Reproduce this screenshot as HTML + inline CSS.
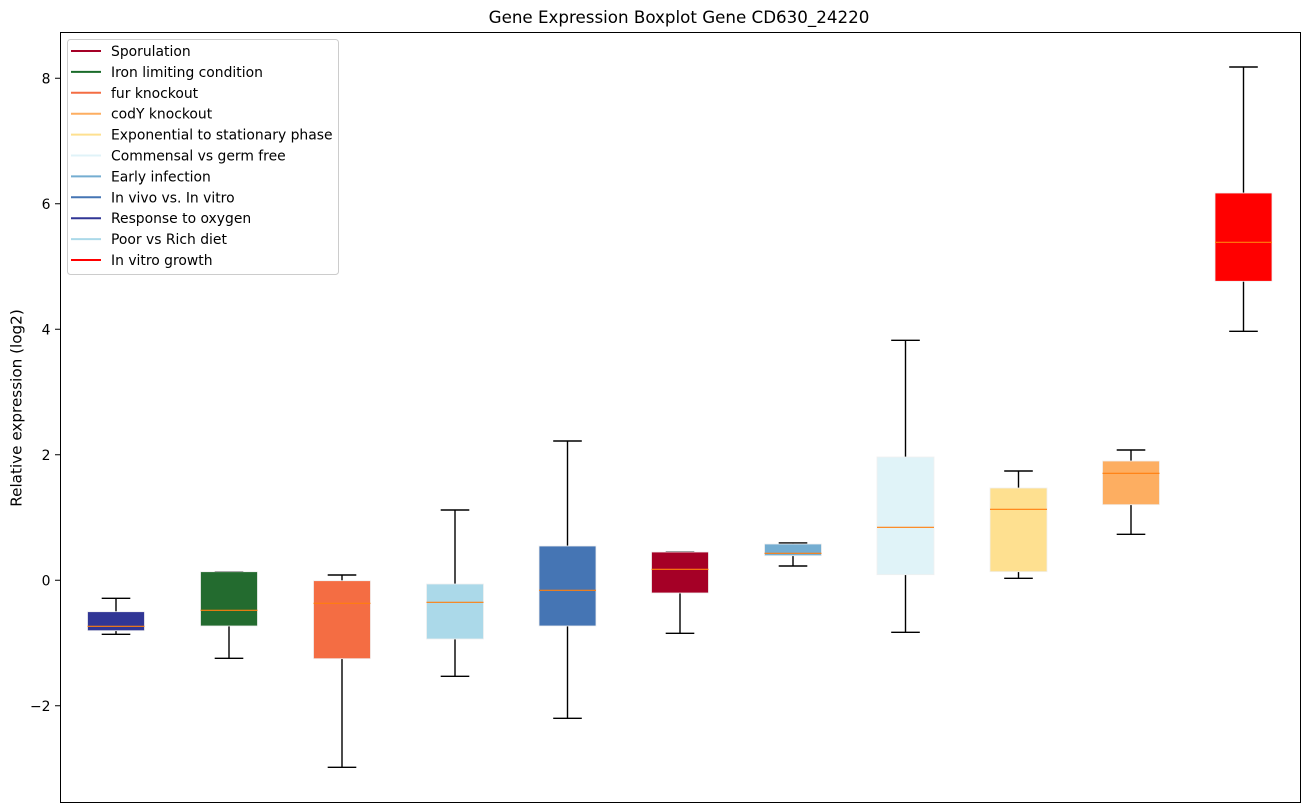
<!DOCTYPE html>
<html><head><meta charset="utf-8"><style>
html,body{margin:0;padding:0;background:#fff;}
svg{display:block;font-family:"DejaVu Sans","Liberation Sans",sans-serif;}
</style></head><body>
<svg width="1309" height="812" viewBox="0 0 1309 812" xmlns="http://www.w3.org/2000/svg">
<rect width="1309" height="812" fill="#fff"/>
<text x="679" y="23" font-size="16.7" text-anchor="middle" fill="#000">Gene Expression Boxplot Gene CD630_24220</text>
<text transform="translate(21.5,408) rotate(-90)" font-size="15.2" text-anchor="middle" fill="#000">Relative expression (log2)</text>

<g stroke="#000" stroke-width="1.4" fill="none">
<path d="M116 611.7V598.3M101.7 598.3H130.3M116 630.7V634.3M101.7 634.3H130.3"/>
<path d="M214.7 571.7H243.3M229 626V658.3M214.7 658.3H243.3"/>
<path d="M342 580.7V575M327.7 575H356.3M342 658.7V767.3M327.7 767.3H356.3"/>
<path d="M455 584V510M440.7 510H469.3M455 639V676.3M440.7 676.3H469.3"/>
<path d="M567.5 546V441M553.2 441H581.8M567.5 626V718.3M553.2 718.3H581.8"/>
<path d="M665.7 552H694.3M680 593V633.3M665.7 633.3H694.3"/>
<path d="M793 544V543M778.7 543H807.3M793 555.7V566M778.7 566H807.3"/>
<path d="M905.5 457V340.3M891.2 340.3H919.8M905.5 574.7V632.3M891.2 632.3H919.8"/>
<path d="M1018.5 488V471M1004.2 471H1032.8M1018.5 571.7V578.3M1004.2 578.3H1032.8"/>
<path d="M1131 461V450M1116.7 450H1145.3M1131 504.7V534.3M1116.7 534.3H1145.3"/>
<path d="M1243.5 193V67M1229.2 67H1257.8M1243.5 281.3V331.3M1229.2 331.3H1257.8"/>
</g>
<g stroke="#f0f0f0" stroke-width="0.8">
<rect x="87.5" y="611.7" width="57" height="19" fill="#313695"/>
<rect x="200.5" y="571.7" width="57" height="54.3" fill="#236b2f"/>
<rect x="313.5" y="580.7" width="57" height="78" fill="#f46d43"/>
<rect x="426.5" y="584" width="57" height="55" fill="#abd9e9"/>
<rect x="539" y="546" width="57" height="80" fill="#4575b4"/>
<rect x="651.5" y="552" width="57" height="41" fill="#a50026"/>
<rect x="764.5" y="544" width="57" height="11.7" fill="#74add1"/>
<rect x="877" y="457" width="57" height="117.7" fill="#e0f3f8"/>
<rect x="990" y="488" width="57" height="83.7" fill="#fee090"/>
<rect x="1102.5" y="461" width="57" height="43.7" fill="#fdae61"/>
<rect x="1215" y="193" width="57" height="88.3" fill="#ff0000"/>
</g>
<g stroke="#ff7f0e" stroke-width="1.2">
<path d="M87.5 626.3H144.5M200.5 610.3H257.5M313.5 603.3H370.5M426.5 602.3H483.5M539 590.3H596M651.5 569.3H708.5M764.5 553.3H821.5M877 527.3H934M990 509.3H1047M1102.5 473.3H1159.5M1215 242.3H1272"/>
</g>

<rect x="60.5" y="32.5" width="1240" height="770" fill="none" stroke="#000" stroke-width="1"/>
<g stroke="#000" stroke-width="1">
<path d="M55 78.3H60M55 203.8H60M55 329.3H60M55 454.8H60M55 580.3H60M55 705.8H60"/>
</g>
<g font-size="13.9" text-anchor="end" fill="#000">
<text x="50.5" y="83.3">8</text>
<text x="50.5" y="208.8">6</text>
<text x="50.5" y="334.3">4</text>
<text x="50.5" y="459.8">2</text>
<text x="50.5" y="585.3">0</text>
<text x="50.5" y="710.8">−2</text>
</g>

<rect x="67.5" y="39.5" width="271" height="235" rx="3" fill="#fff" fill-opacity="0.85" stroke="#cccccc" stroke-width="1"/>
<g stroke-width="2">
<line x1="71" y1="51" x2="101" y2="51" stroke="#a50026"/>
<line x1="71" y1="71.9" x2="101" y2="71.9" stroke="#1a6b2a"/>
<line x1="71" y1="92.8" x2="101" y2="92.8" stroke="#f46d43"/>
<line x1="71" y1="113.7" x2="101" y2="113.7" stroke="#fdae61"/>
<line x1="71" y1="134.6" x2="101" y2="134.6" stroke="#fee090"/>
<line x1="71" y1="155.5" x2="101" y2="155.5" stroke="#e0f3f8"/>
<line x1="71" y1="176.4" x2="101" y2="176.4" stroke="#74add1"/>
<line x1="71" y1="197.3" x2="101" y2="197.3" stroke="#4575b4"/>
<line x1="71" y1="218.2" x2="101" y2="218.2" stroke="#313695"/>
<line x1="71" y1="239.1" x2="101" y2="239.1" stroke="#abd9e9"/>
<line x1="71" y1="260" x2="101" y2="260" stroke="#ff0000"/>
</g>
<g font-size="13.9" fill="#000">
<text x="111" y="56">Sporulation</text>
<text x="111" y="76.9">Iron limiting condition</text>
<text x="111" y="97.8">fur knockout</text>
<text x="111" y="118.7">codY knockout</text>
<text x="111" y="139.6">Exponential to stationary phase</text>
<text x="111" y="160.5">Commensal vs germ free</text>
<text x="111" y="181.4">Early infection</text>
<text x="111" y="202.3">In vivo vs. In vitro</text>
<text x="111" y="223.2">Response to oxygen</text>
<text x="111" y="244.1">Poor vs Rich diet</text>
<text x="111" y="265">In vitro growth</text>
</g>
</svg>
</body></html>
